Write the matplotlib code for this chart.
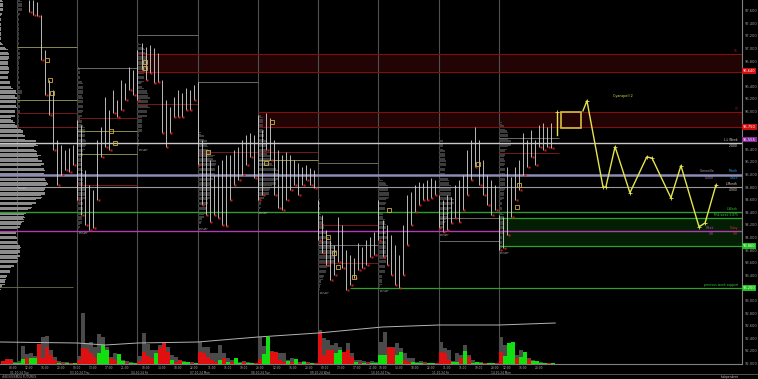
import numpy as np
import matplotlib
matplotlib.use("Agg")
import matplotlib.pyplot as plt
from matplotlib.patches import Rectangle
from matplotlib.transforms import blended_transform_factory as btf

# ---------------- data ----------------
session_start = [0, 15, 30, 45, 60, 75, 90, 105, 120]
session_dates = ["01.10.24 Tue", "03.10.24 Thu", "04.10.24 Fri", "07.10.24 Mon", "08.10.24 Tue",
                 "09.10.24 Wed", "10.10.24 Thu", "11.10.24 Fri", "14.10.24 Mon"]

first_bar = 3
highs = [
    97.77, 97.77, 97.74, 97.53, 96.98, 96.50, 96.34, 95.55, 95.47, 95.39, 95.42, 95.47,
    95.87, 95.79, 95.07, 94.83, 94.75, 95.55, 95.75, 96.23, 96.02, 96.34, 96.18, 96.50, 96.45, 96.71, 96.66,
    96.98, 97.09, 97.02, 97.06, 97.01, 96.93, 96.50, 96.18, 96.07, 96.23, 96.34, 96.29, 96.37, 96.34, 96.42,
    96.47, 95.55, 95.39, 95.23, 94.99, 95.15, 95.23, 95.31, 95.31, 95.39, 95.44, 95.55, 95.63, 95.66, 95.63,
    95.94, 95.71, 95.98, 95.90, 95.55, 95.39, 95.31, 95.36, 95.31, 95.23, 95.18, 95.12, 95.15, 95.10, 95.07,
    94.60, 94.36, 94.12, 93.96, 93.88, 94.33, 94.20, 93.80, 93.72, 93.67, 93.91, 93.85, 93.96, 94.01, 94.09,
    94.60, 94.28, 94.20, 94.04, 93.88, 93.72, 94.20, 94.67, 94.72, 94.83, 94.88, 94.87, 94.91, 94.94, 94.91,
    94.67, 94.60, 94.67, 94.64, 94.83, 94.91, 94.99, 95.39, 95.55, 95.75, 95.55, 95.23, 94.99, 94.91, 94.83,
    94.36, 94.33, 95.12, 94.96, 95.12, 95.23, 95.66, 95.55, 95.71, 95.55, 95.79, 95.82, 95.75, 95.82,
]
lows = [
    97.58, 97.53, 97.52, 96.82, 96.26, 95.94, 95.39, 94.83, 94.99, 95.07, 95.04, 95.15,
    94.60, 94.36, 94.20, 94.12, 94.15, 94.60, 95.28, 95.44, 95.39, 95.98, 95.91, 96.02, 96.18, 96.34, 96.26,
    96.18, 96.66, 96.50, 96.61, 96.45, 96.47, 95.66, 95.44, 95.66, 95.91, 95.91, 95.91, 96.02, 96.02, 96.18,
    95.15, 94.52, 94.36, 94.25, 94.36, 94.31, 94.20, 94.18, 94.60, 94.83, 94.91, 94.99, 95.15, 95.28, 94.94,
    94.60, 94.67, 95.39, 95.23, 94.67, 94.47, 94.44, 94.60, 94.75, 94.83, 94.67, 94.83, 94.91, 94.83, 94.79,
    93.96, 93.75, 93.56, 93.33, 93.40, 93.61, 93.52, 93.17, 93.25, 93.36, 93.48, 93.52, 93.56, 93.69, 93.72,
    93.96, 93.69, 93.56, 93.40, 93.25, 93.20, 93.40, 93.88, 94.20, 94.40, 94.52, 94.60, 94.60, 94.63, 94.67,
    94.15, 94.09, 94.12, 94.23, 94.31, 94.25, 94.44, 94.67, 94.91, 95.12, 94.83, 94.67, 94.52, 94.36, 94.44,
    93.80, 93.83, 94.04, 94.33, 94.60, 94.75, 94.99, 95.12, 95.28, 95.15, 95.44, 95.39, 95.44, 95.42,
]

vol_first = -4
vol_total = [
    3, 5, 5, 2,
    3, 18, 10, 11, 8, 20, 27, 28, 14, 7, 3, 2, 2, 1, 1,
    8, 51, 21, 22, 17, 30, 27, 17, 7, 11, 10, 4, 3, 2, 1,
    8, 31, 20, 14, 14, 19, 21, 17, 9, 7, 4, 3, 2, 2, 1,
    22, 17, 17, 11, 11, 19, 11, 6, 4, 6, 2, 3, 2, 1, 1,
    27, 18, 27, 13, 12, 11, 11, 4, 6, 5, 2, 3, 2, 1, 1,
    34, 26, 24, 19, 21, 17, 12, 21, 11, 4, 4, 3, 2, 3, 2,
    22, 32, 17, 17, 21, 16, 11, 6, 6, 2, 3, 2, 1, 1, 1,
    22, 16, 14, 3, 11, 9, 19, 9, 4, 2, 2, 1, 1, 1, 1,
    27, 19, 21, 22, 9, 14, 12, 6, 4, 3, 2, 1, 1, 1,
]
vol_delta = [
    -3, -5, -4, 1,
    1, 5, -6, 6, 6, -20, -6, -17, -9, -4, 1, -1, 1, -1, 1,
    -4, -16, -15, -11, -7, 11, 19, 14, -6, -4, 10, 3, -1, 1, 1,
    -3, -12, -8, -6, 11, -16, -21, -12, 4, -2, -4, 2, 2, -1, 1,
    -12, -11, -7, -4, -2, 4, -6, 2, -2, 6, 1, -2, 1, 1, -1,
    -5, 10, 27, -12, -12, -4, -2, 3, -2, 5, -1, 2, -1, 1, -1,
    -31, -9, -14, -14, 11, 14, -12, -14, -7, 2, -1, 1, -1, 1, 1,
    9, 9, -17, -16, 9, 12, -4, -2, 2, 1, 1, -1, 1, 1, -1,
    -12, -11, -4, 2, 2, -6, 13, -7, 1, 2, 1, -1, 1, 1, -1,
    -12, 8, 21, 22, -6, 7, 12, -5, 3, 3, 1, 1, -1, 1,
]
vol_avg_x = [-4.2, 15, 22, 30, 45, 60, 75, 83, 91, 105, 120, 134]
vol_avg = [22, 21, 19, 21, 22, 27, 31, 34, 37, 39, 39, 41]

# full-width levels
levels = [95.50, 95.00, 94.80, 94.40, 94.10]
level_colors = ["#c8c8c8", "#8c8cb4", "#9a9a9a", "#2f9a2f", "#b03cb0"]
level_widths = [1.0, 1.8, 0.8, 1.0, 1.0]
composite_low = 93.21

# zones: start index, low, high
red_zone_start = [30, 60]
red_zone_low = [96.63, 95.75]
red_zone_high = [96.91, 95.99]
green_zone = (120, 93.86, 94.31)
green_line_start = [83]
green_line_price = [93.20]

# short session lines: start, end, price, kind
sess_lines = [
    (0, 15, 97.02, "y"), (0, 15, 96.18, "y"), (0, 15, 95.98, "r"), (0, 15, 95.75, "r"),
    (15, 30, 96.69, "g"), (15, 30, 95.90, "r"), (15, 30, 95.69, "y"), (15, 30, 95.33, "y"), (15, 30, 94.83, "r"),
    (30, 45, 97.21, "g"), (30, 45, 96.12, "r"), (30, 45, 96.91, "y"),
    (45, 60, 96.47, "g"), (45, 75, 95.36, "r"), (60, 75, 95.23, "y"),
    (75, 90, 95.18, "g"), (75, 90, 94.20, "r"), (75, 90, 93.88, "g"), (75, 90, 93.60, "r"),
    (105, 120, 94.31, "g"), (105, 120, 93.94, "g"),
    (120, 135, 95.34, "r"), (120, 135, 95.58, "g"),
]
yellow_marks_x = [7.5, 8.3, 8.6, 23.5, 24.5, 31.8, 31.8, 47.5, 63.5, 62.0, 77.5, 78.8, 80.0, 83.8, 92.5, 114.7, 124.9, 124.6]
yellow_marks_y = [96.81, 96.50, 96.29, 95.69, 95.50, 96.79, 96.69, 95.36, 95.84, 95.18, 94.01, 93.75, 93.53, 93.37, 94.44, 95.17, 94.83, 94.48]

# projection
proj_x = [134.4, 134.4]
proj_y = [95.63, 95.99]
box = (135.4, 140.4, 95.74, 95.99)
proj2_x = [140.9, 141.9, 145.9, 146.6, 148.9, 152.6, 156.8, 158.1, 162.8, 165.3, 169.8, 171.3, 174.0]
proj2_y = [96.01, 96.17, 94.80, 94.80, 95.44, 94.71, 95.28, 95.26, 94.63, 95.14, 94.17, 94.23, 94.83]

tick_x = [-1, 3, 7, 11, 15, 19, 23, 27, 32, 36, 40, 44, 48.5, 52.5, 56.5, 60.5, 64.7, 68.7, 72.7,
          76.7, 80.7, 84.6, 88.6, 91, 95, 99, 103, 107, 111, 115, 119, 122, 126, 130]
tick_lab = ["08:00", "12:00", "16:00", "20:00", "09:00", "13:00", "17:00", "21:00",
            "10:00", "14:00", "18:00", "22:00", "11:00", "15:00", "19:00", "23:00",
            "12:00", "16:00", "20:00", "09:00", "13:00", "17:00", "21:00",
            "10:00", "14:00", "18:00", "22:00", "11:00", "15:00", "19:00", "23:00",
            "12:00", "16:00", "20:00"]

price_ticks = [92.0, 92.2, 92.4, 92.6, 92.8, 93.0, 93.2, 93.4, 93.6, 93.8, 94.0, 94.2, 94.4, 94.6,
               94.8, 95.0, 95.2, 95.4, 95.6, 95.8, 96.0, 96.2, 96.4, 96.6, 96.8, 97.0, 97.2, 97.4, 97.6]

axis_tags = [(96.64, "96.640", "#d01010"), (95.75, "95.750", "#d01010"), (95.555, "95.555", "#8a2a9a"),
             (93.86, "93.860", "#20c020"), (93.20, "93.200", "#20c020")]

# ---------------- figure ----------------
W, H = 758, 379
fig = plt.figure(figsize=(W / 100, H / 100), dpi=100, facecolor="black")
ax = fig.add_axes([0, 15 / H, 742 / W, 364 / H])
ax.set_facecolor("black")
XL = (-4.23, 180.5)
ax.set_xlim(*XL)
ax.set_ylim(91.992, 97.770)

# volume on a twin axis (made first, twinx moves the ticks of ax)
ax2 = ax.twinx()
ax2.set_ylim(0, 364)
ax2.set_xlim(*XL)
ax2.axis("off")
vx = np.arange(len(vol_total)) + vol_first
vt = np.array(vol_total)
vd = np.array(vol_delta)
ax2.bar(vx, vt, width=1.0, align="edge", color="#4a4a4a", zorder=1)
ax2.bar(vx, np.abs(vd), width=1.0, align="edge", color=np.where(vd > 0, "#10e010", "#e01010"), zorder=2)
ax2.plot(vol_avg_x, vol_avg, color="#b4b4b4", lw=0.7, zorder=3)

RED_LINE, YEL_LINE, GRY_LINE = "#7a1818", "#8a8a48", "#6a6a6a"
kind_col = {"r": RED_LINE, "y": YEL_LINE, "g": GRY_LINE}

for s in session_start:
    ax.axvline(s, color="#505050", lw=0.8, zorder=1)

# zones
for s, lo, hi in zip(red_zone_start, red_zone_low, red_zone_high):
    ax.add_patch(Rectangle((s, lo), XL[1] - s, hi - lo, fc="#220404", ec="none", zorder=0.5))
    ax.hlines([lo, hi], s, XL[1], color="#801010", lw=0.8, zorder=2)
gs, glo, ghi = green_zone
ax.add_patch(Rectangle((gs, glo), XL[1] - gs, ghi - glo, fc="#041e04", ec="none", zorder=0.5))
ax.hlines([glo, ghi], gs, XL[1], color="#2ea02e", lw=0.9, zorder=2)
ax.hlines(green_line_price, green_line_start, XL[1], color="#2ea02e", lw=0.9, zorder=2)

for p, c, w in zip(levels, level_colors, level_widths):
    ax.axhline(p, color=c, lw=w, zorder=2)
ax.hlines(composite_low, XL[0], 14, color="#707050", lw=0.6, zorder=1.5)

for a, b, p, k in sess_lines:
    ax.hlines(p, a, b, color=kind_col[k], lw=0.7, zorder=1.5)

# profiles
bins = np.arange(92.0, 97.8, 0.02)
hi_arr = np.array(highs)
lo_arr = np.array(lows)
bx = np.arange(len(highs)) + first_bar


def profile(h, l):
    cnt = np.zeros(len(bins))
    for a, b in zip(h, l):
        cnt += (bins >= b) & (bins <= a)
    return cnt


comp = profile(hi_arr, lo_arr)
ax.barh(bins, comp / comp.max() * 12.0, left=XL[0], height=0.014, color="#8c8c8c", zorder=1.2)
for s in session_start:
    m = (bx >= s) & (bx < s + 15)
    c = profile(hi_arr[m], lo_arr[m])
    ax.barh(bins, c * 0.38, left=s, height=0.014, color="#3c3c3c", zorder=1.1)

# price bars
ax.vlines(bx, lo_arr, hi_arr, color="#d6d6d6", lw=0.6, zorder=3)
ax.plot(bx + 0.4, lo_arr, "s", ms=1.8, color="#d01818", mec="none", zorder=4)
ax.plot(yellow_marks_x, yellow_marks_y, "s", ms=2.4, mfc="none", mec="#d0b040", mew=0.6, zorder=4)

# session low labels
for s in session_start:
    m = (bx >= s) & (bx < s + 15)
    lo, hi = lo_arr[m].min(), hi_arr[m].max()
    ax.text(s + 0.3, lo - 0.03, "L:%.3f\nR:%.3f" % (lo, hi - lo), color="#c8c8c8",
            fontsize=1.6, va="top", ha="left", zorder=5, linespacing=1.1)

# projection
YEL = "#e4e450"
ax.plot(proj_x, proj_y, color=YEL, lw=1.0, zorder=5)
ax.plot(proj_x[-1], proj_y[-1], "+", color=YEL, ms=3, mew=0.6, zorder=5)
ax.add_patch(Rectangle((box[0], box[2]), box[1] - box[0], box[3] - box[2], fill=False, ec="#d8c040", lw=1.2, zorder=5))
ax.plot(proj2_x, proj2_y, color=YEL, lw=1.0, zorder=5)
ax.plot(proj2_x[1:], proj2_y[1:], "+", color=YEL, ms=3, mew=0.6, zorder=5)
ax.text(150.8, 96.25, "Cyanspell 2", color=YEL, fontsize=2.4, ha="center", va="center")

# right-side level labels
RX = 179.5
lab = dict(fontsize=2.2, ha="right", zorder=6)
ax.text(RX, 96.93, "15", color="#c02020", va="bottom", **lab)
ax.text(RX, 96.01, "17", color="#c02020", va="bottom", **lab)
ax.text(RX, 95.52, "L.L Week", color="#e0e0e0", va="bottom", **lab)
ax.text(RX, 95.48, "2.000", color="#e0e0e0", va="top", **lab)
ax.text(RX - 6, 95.02, "Camarilla", color="#b090c0", va="bottom", **lab)
ax.text(RX, 95.02, "Month", color="#40a0e0", va="bottom", **lab)
ax.text(RX - 6, 94.98, "5.000", color="#b090c0", va="top", **lab)
ax.text(RX, 94.98, "4.823", color="#40a0e0", va="top", **lab)
ax.text(RX, 94.82, "L.Month", color="#e0d0c0", va="bottom", **lab)
ax.text(RX, 94.78, "4.900", color="#e0d0c0", va="top", **lab)
ax.text(RX, 94.42, "L.Week", color="#30d030", va="bottom", **lab)
ax.text(RX, 94.33, "Mid-week 3.875", color="#30d030", va="bottom", **lab)
ax.text(RX - 6, 94.12, "Week", color="#c040d0", va="bottom", **lab)
ax.text(RX, 94.12, "Today", color="#d03030", va="bottom", **lab)
ax.text(RX - 6, 94.08, "S/R", color="#c040d0", va="top", **lab)
ax.text(RX, 94.08, "S/R", color="#d03030", va="top", **lab)
ax.text(RX, 93.22, "previous week support", color="#30d030", va="bottom", **lab)

# axes styling; ticks hidden under a coloured tag are left blank
tag_prices = [t[0] for t in axis_tags]
ax.yaxis.tick_right()
ax.yaxis.set_label_position("right")
ax.set_yticks(price_ticks)
ax.set_yticklabels(["" if min(abs(v - q) for q in tag_prices) < 0.05 else "%.3f" % v for v in price_ticks])
ax.tick_params(axis="y", which="both", left=False, labelleft=False, right=False, labelright=True,
               length=0, labelsize=2.6, labelcolor="#9a9a9a", pad=2)
ax.set_xticks([])
for sp in ["left", "top"]:
    ax.spines[sp].set_visible(False)
ax.spines["right"].set_color("#808080")
ax.spines["bottom"].set_color("#808080")
ax.spines["right"].set_linewidth(0.8)
ax.spines["bottom"].set_linewidth(0.8)

for p, t, c in axis_tags:
    ax.text(1.001, p, t, transform=btf(ax.transAxes, ax.transData), fontsize=2.6, color="white",
            va="center", ha="left", clip_on=False, zorder=10,
            bbox=dict(boxstyle="square,pad=0.25", fc=c, ec="none"))

tr = btf(ax.transData, ax.transAxes)
for x, t in zip(tick_x, tick_lab):
    ax.text(x, -0.005, t, transform=tr, fontsize=2.1, color="#b0b0b0", ha="center", va="top", clip_on=False)
for s, d in zip(session_start, session_dates):
    ax.text(s + 0.5, -0.019, d, transform=tr, fontsize=2.1, color="#b0b0b0", ha="center", va="top", clip_on=False)

# status bar
fig.add_artist(plt.Line2D([0, 1], [5 / H, 5 / H], color="#606060", lw=0.6))
fig.text(0.002, 2 / H, "#6E/6S/6M24 FUTURES", fontsize=2.1, color="#b0b0b0", va="center")
fig.text(0.975, 2 / H, "Independent", fontsize=2.1, color="#d0d0d0", va="center", ha="right")

fig.savefig("out.png", dpi=100, facecolor="black")
